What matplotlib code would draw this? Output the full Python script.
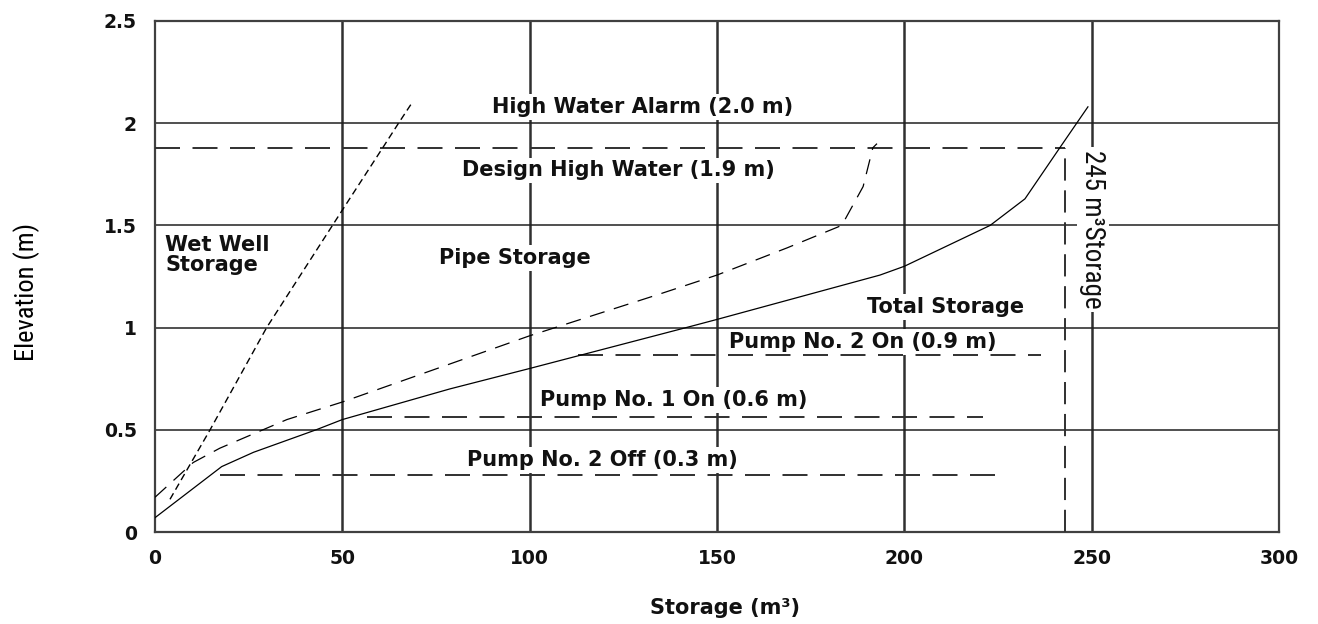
import matplotlib
matplotlib.use('Agg')
import matplotlib.pyplot as plt
from matplotlib import font_manager

plt.rcParams['font.family'] = ['DejaVu Sans']
plt.rcParams['lines.scale_dashes'] = False

# a narrow face for the axis title and the storage note, if one is installed
installed = {f.name for f in font_manager.fontManager.ttflist}
narrow, narrow_scale = 'DejaVu Sans', 0.72
for name in ('Liberation Sans Narrow', 'Roboto Condensed', 'Open Sans Condensed',
             'DejaVu Sans Condensed'):
    if name in installed:
        narrow, narrow_scale = name, 1.0
        break

# Storage curves (storage m3, elevation m)
wet_x = [4, 14.7, 29.8, 50, 61, 65, 68.6]
wet_y = [0.16, 0.5, 1.0, 1.575, 1.886, 2.0, 2.1]

pipe_x = [0, 10.2, 17.3, 35.2, 50, 100, 134, 150, 168.7, 183.3, 189, 191.6, 192.7]
pipe_y = [0.17, 0.34, 0.41, 0.55, 0.636, 0.96, 1.16, 1.257, 1.39, 1.5, 1.69, 1.88, 1.90]

total_x = [0, 17.8, 26.3, 43, 50, 78.7, 100, 142.8, 150, 193.5, 200, 222.9, 232.2, 241.5, 246, 249]
total_y = [0.07, 0.32, 0.39, 0.5, 0.55, 0.70, 0.80, 1.005, 1.04, 1.257, 1.30, 1.5, 1.63, 1.88, 2.0, 2.08]

# Operating levels: (elevation, start storage, end storage)
design_high = (1.88, 0, 243)
pump2_on = (0.866, 113, 236.5)
pump1_on = (0.563, 56.5, 221)
pump2_off = (0.28, 17.4, 225)
storage_245 = 243

x_ticks = [0, 50, 100, 150, 200, 250, 300]
y_ticks = [0, 0.5, 1, 1.5, 2, 2.5]
y_tick_labels = ['0', '0.5', '1', '1.5', '2', '2.5']

fig = plt.figure(figsize=(13.18, 6.24), dpi=100)
ax = fig.add_axes([155 / 1318, 1 - 532 / 624, 1124 / 1318, 511 / 624])
ax.set_xlim(0, 300)
ax.set_ylim(0, 2.5)

ax.set_xticks(x_ticks)
ax.set_yticks(y_ticks)
ax.set_yticklabels(y_tick_labels)
ax.tick_params(length=0, labelsize=13.5, labelcolor='#111111')
ax.tick_params(axis='x', pad=12)
ax.tick_params(axis='y', pad=13)
for t in ax.get_xticklabels() + ax.get_yticklabels():
    t.set_fontweight('bold')
for s in ax.spines.values():
    s.set_color('#404040')
    s.set_linewidth(1.6)

# grid
for x in x_ticks[1:-1]:
    ax.axvline(x, color='#303030', lw=1.8, zorder=1)
for y in y_ticks[1:-1]:
    ax.axhline(y, color='#202020', lw=1.1, zorder=1)

# curves
ax.plot(wet_x, wet_y, color='black', lw=1.0, dashes=(5, 3), zorder=4)
ax.plot(pipe_x, pipe_y, color='black', lw=0.9, dashes=(11, 7), zorder=4)
ax.plot(total_x, total_y, color='black', lw=0.9, zorder=4)

# operating levels
ref = dict(colors='#303030', lw=1.4, zorder=3)
for lvl in (design_high, pump2_on, pump1_on, pump2_off):
    ax.hlines(lvl[0], lvl[1], lvl[2], linestyles=[(0, (18, 9))], **ref)
ax.vlines(storage_245, 0, design_high[0], linestyles=[(0, (16, 7))], **ref)

box = dict(facecolor='white', edgecolor='none', pad=2)
lab = dict(ha='center', va='center', fontsize=15, fontweight='bold', color='#111111',
           bbox=box, zorder=2)
ax.text(130, 2.08, 'High Water Alarm (2.0 m)', **lab)
ax.text(123.6, 1.77, 'Design High Water (1.9 m)', **lab)
ax.text(96, 1.34, 'Pipe Storage', **lab)
ax.text(211, 1.10, 'Total Storage', **lab)
ax.text(189, 0.93, 'Pump No. 2 On (0.9 m)', **lab)
ax.text(138.5, 0.646, 'Pump No. 1 On (0.6 m)', **lab)
ax.text(119.4, 0.352, 'Pump No. 2 Off (0.3 m)', **lab)
ax.text(2.7, 1.355, 'Wet Well\nStorage', ha='left', va='center', fontsize=15,
        fontweight='bold', color='#111111', linespacing=1.05, zorder=2)
ax.text(250.3, 1.48, '245 m³Storage', rotation=270, ha='center', va='center',
        fontsize=19.5 * narrow_scale, family=narrow, color='#111111', bbox=box, zorder=2)

ax.set_xlabel('Storage (m³)', fontsize=15, fontweight='bold', color='#111111', va='center')
ax.xaxis.set_label_coords(0.507, -0.149)
ax.set_ylabel('Elevation (m)', fontsize=19 * narrow_scale, family=narrow, va='center')
ax.yaxis.set_label_coords(-0.114, 0.47)

fig.savefig('out.png', dpi=100)
